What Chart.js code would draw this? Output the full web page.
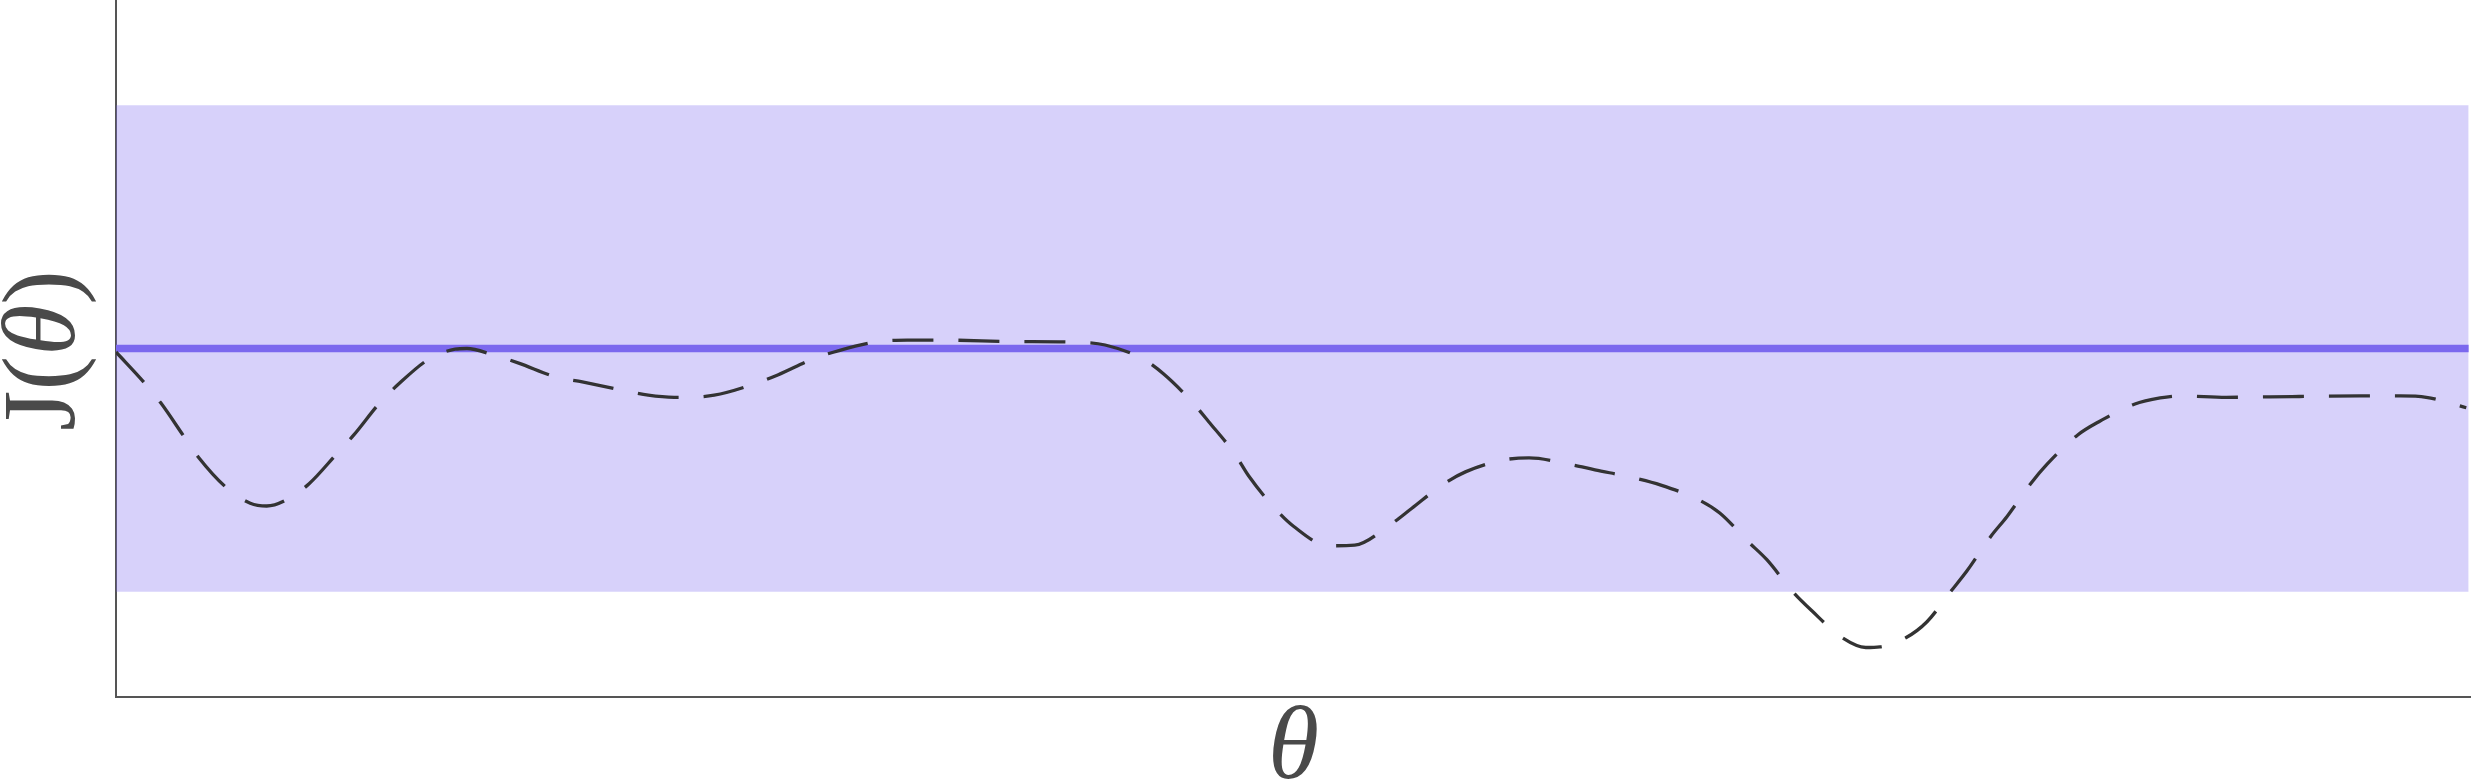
<!DOCTYPE html>
<html>
<head>
<meta charset="utf-8">
<title>J(θ)</title>
<script src="https://cdn.jsdelivr.net/npm/chart.js@4.4.0/dist/chart.umd.min.js"></script>
<style>
  html, body { margin: 0; padding: 0; background: #ffffff; }
  #wrap { width: 2471px; height: 780px; }
</style>
</head>
<body>
<div id="wrap"><canvas id="costChart" width="2471" height="780"></canvas></div>
<script>
  'use strict';

  var thetaValues = [0, 0.012, 0.019, 0.029, 0.035, 0.047, 0.057, 0.064, 0.073, 0.082, 0.094, 0.101, 0.112, 0.120,
    0.133, 0.144, 0.149, 0.160, 0.171, 0.187, 0.198, 0.214, 0.226, 0.237, 0.242, 0.254, 0.270, 0.281, 0.296, 0.307,
    0.324, 0.336, 0.352, 0.381, 0.409, 0.420, 0.436, 0.445, 0.457, 0.464, 0.475, 0.481, 0.492, 0.500, 0.515, 0.526,
    0.541, 0.550, 0.563, 0.573, 0.589, 0.600, 0.617, 0.628, 0.645, 0.656, 0.672, 0.681, 0.693, 0.701, 0.712, 0.720,
    0.733, 0.743, 0.749, 0.760, 0.769, 0.779, 0.786, 0.796, 0.803, 0.813, 0.820, 0.833, 0.842, 0.857, 0.868, 0.877,
    0.896, 0.924, 0.953, 0.970, 0.981, 0.998];
  var costValues = [0.495, 0.451, 0.422, 0.373, 0.344, 0.300, 0.278, 0.274, 0.284, 0.306, 0.350, 0.376, 0.422, 0.449,
    0.485, 0.499, 0.500, 0.491, 0.479, 0.459, 0.452, 0.441, 0.433, 0.430, 0.430, 0.433, 0.448, 0.462, 0.485, 0.497,
    0.510, 0.512, 0.512, 0.510, 0.509, 0.505, 0.485, 0.463, 0.423, 0.395, 0.349, 0.317, 0.271, 0.245, 0.217, 0.218,
    0.247, 0.270, 0.304, 0.323, 0.340, 0.343, 0.334, 0.326, 0.314, 0.304, 0.283, 0.264, 0.223, 0.197, 0.151, 0.124,
    0.085, 0.071, 0.072, 0.085, 0.108, 0.151, 0.181, 0.230, 0.259, 0.306, 0.334, 0.376, 0.395, 0.420, 0.429, 0.432,
    0.430, 0.431, 0.432, 0.432, 0.430, 0.415];

  // reference level and tolerance band
  var bandTheta = [0, 0.999];
  var bandLow = [0.151, 0.151];
  var bandHigh = [0.849, 0.849];
  var optimum = [0.5, 0.5];

  function toPoints(xs, ys) {
    var pts = [];
    for (var i = 0; i < xs.length; i++) {
      pts.push({ x: xs[i], y: ys[i] });
    }
    return pts;
  }

  var textColor = '#4a4a4a';
  var serif = '"Liberation Serif", "DejaVu Serif", serif';

  // axis titles: upright J, italic theta
  var axisTitles = {
    id: 'axisTitles',
    afterDraw: function (chart) {
      var ctx = chart.ctx;
      var area = chart.chartArea;
      var upright = '104px ' + serif;
      var italic = 'italic 104px ' + serif;
      ctx.save();
      ctx.fillStyle = textColor;
      ctx.textBaseline = 'alphabetic';

      // x title
      ctx.font = italic;
      ctx.textAlign = 'center';
      ctx.fillText('θ', (area.left + area.right) / 2, 778);

      // y title
      ctx.font = upright;
      var w1 = ctx.measureText('J(').width;
      var w3 = ctx.measureText(')').width;
      ctx.font = italic;
      var w2 = ctx.measureText('θ').width;
      var total = w1 + w2 + w3;
      ctx.translate(74, (area.top + area.bottom) / 2 + 2);
      ctx.rotate(-Math.PI / 2);
      ctx.textAlign = 'left';
      ctx.font = upright;
      ctx.fillText('J(', -total / 2, 0);
      ctx.font = italic;
      ctx.fillText('θ', -total / 2 + w1, 0);
      ctx.font = upright;
      ctx.fillText(')', -total / 2 + w1 + w2, 0);
      ctx.restore();
    }
  };

  var costCanvas = document.getElementById('costChart').getContext('2d');
  var costChart = new Chart(costCanvas, {
    type: 'line',
    data: {
      datasets: [{
        data: toPoints(bandTheta, bandLow),
        borderWidth: 0,
        pointRadius: 0,
        fill: false,
        order: 4
      }, {
        data: toPoints(bandTheta, bandHigh),
        borderWidth: 0,
        pointRadius: 0,
        backgroundColor: 'rgba(123, 104, 238, 0.3)',
        fill: '-1',
        order: 3
      }, {
        data: toPoints(bandTheta, optimum),
        borderColor: '#7b68ee',
        borderWidth: 7.5,
        pointRadius: 0,
        fill: false,
        order: 2
      }, {
        data: toPoints(thetaValues, costValues),
        borderColor: '#333333',
        borderWidth: 3.3,
        borderDash: [41, 25],
        borderCapStyle: 'butt',
        cubicInterpolationMode: 'monotone',
        pointRadius: 0,
        fill: false,
        order: 1
      }]
    },
    options: {
      responsive: false,
      animation: false,
      events: [],
      layout: { padding: 0, autoPadding: false },
      plugins: {
        legend: { display: false },
        tooltip: { enabled: false }
      },
      scales: {
        x: {
          type: 'linear',
          min: 0,
          max: 1,
          grid: { display: false },
          ticks: { display: false },
          border: { display: true, color: '#555555', width: 2 },
          afterFit: function (scale) { scale.height = 83; }
        },
        y: {
          type: 'linear',
          min: 0,
          max: 1,
          grid: { display: false },
          ticks: { display: false },
          border: { display: true, color: '#555555', width: 2 },
          afterFit: function (scale) { scale.width = 116; }
        }
      }
    },
    plugins: [axisTitles]
  });
</script>
</body>
</html>
